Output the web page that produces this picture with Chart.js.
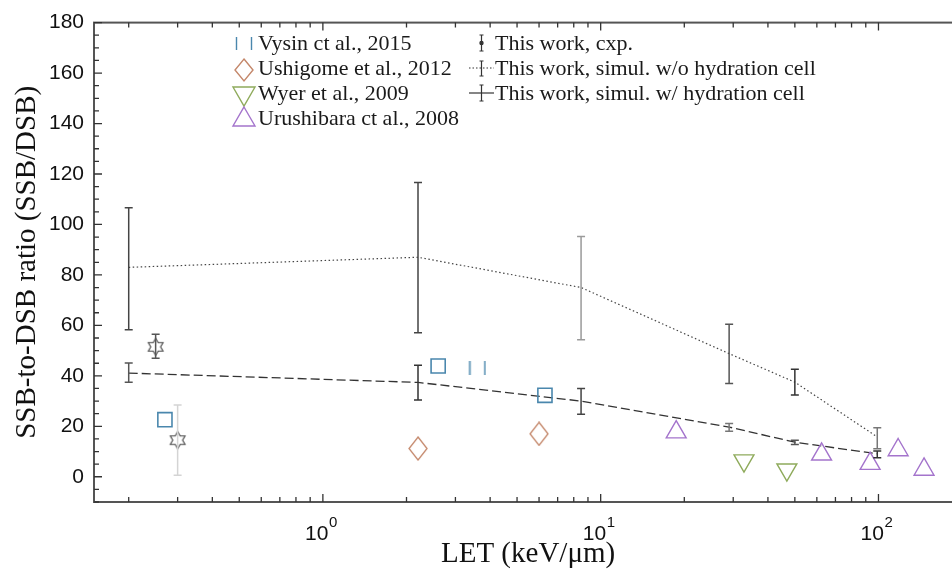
<!DOCTYPE html>
<html>
<head>
<meta charset="utf-8">
<script src="https://cdn.jsdelivr.net/npm/chart.js@4.4.0/dist/chart.umd.min.js"></script>
<style>
  html, body { margin: 0; padding: 0; background: #fff; }
  body { width: 952px; height: 573px; overflow: hidden; position: relative; }
  #wrap { position: absolute; left: 0; top: 0; width: 975px; height: 573px; }
  #glyphs { position: absolute; left: 0; top: 0; }
  .leg { position: absolute; font-family: 'Liberation Serif', serif; font-size: 22px; line-height: 25px; color: #1a1a1a; white-space: nowrap; }
</style>
</head>
<body>
<div id="wrap"><canvas id="chart" width="975" height="573"></canvas></div>

<svg id="glyphs" width="952" height="140">
  <g fill="none" stroke-width="1.4">
    <path d="M236.5 37 V50 M251.5 37 V50" stroke="#4a87ad" />
    <path d="M244 59 L253 70 L244 81 L235 70 Z" stroke="#c4876a" />
    <path d="M233 87 L255 87 L244 106 Z" stroke="#8fab5c" />
    <path d="M244 107 L255 126 L233 126 Z" stroke="#a474cc" />
  </g>
  <g fill="none" stroke="#333" stroke-width="1.2">
    <path d="M481.5 35 V51 M479.5 35 H483.5 M479.5 51 H483.5" />
    <circle cx="481.5" cy="43" r="1.6" fill="#333" />
    <path d="M469 68 H494" stroke-dasharray="1.5 2" />
    <path d="M481.5 61 V76 M479.5 61 H483.5 M479.5 76 H483.5" />
    <path d="M469 93 H494" />
    <path d="M481.5 85 V101 M479.5 85 H483.5 M479.5 101 H483.5" />
  </g>
</svg>
<div class="leg" style="left:258px;top:30px">Vysin ct al., 2015</div>
<div class="leg" style="left:258px;top:55px">Ushigome et al., 2012</div>
<div class="leg" style="left:258px;top:80px">Wyer et al., 2009</div>
<div class="leg" style="left:258px;top:105px">Urushibara ct al., 2008</div>
<div class="leg" style="left:495px;top:30px">This work, cxp.</div>
<div class="leg" style="left:495px;top:55px">This work, simul. w/o hydration cell</div>
<div class="leg" style="left:495px;top:80px">This work, simul. w/ hydration cell</div>

<script>
// ── Data ─────────────────────────────────────────────────
const simX     = [0.2, 2.2, 8.5, 29, 50, 99];
const woY      = [83, 87, 75, 48.8, 37.5, 15.8];
const woLow    = [58.3, 57.1, 54.3, 37, 32.4, 11.1];
const woHigh   = [106.6, 116.6, 95.2, 60.4, 42.6, 19.4];
const wY       = [41.1, 37.4, 30.0, 19.7, 13.7, 9.1];
const wLow     = [37.5, 30.4, 24.8, 18.0, 12.8, 7.5];
const wHigh    = [45.1, 44.2, 35.0, 21.1, 14.5, 10.2];

const expX     = [0.25, 0.30];
const expY     = [51.5, 14.5];
const expLow   = [47, 0.6];
const expHigh  = [56.5, 28.4];

const vysinX      = [0.27, 2.6, 3.6, 6.3];
const vysinY      = [22.6, 43.9, 43.2, 32.3];
const ushigomeX   = [2.2, 6.0];
const ushigomeY   = [11.2, 17.0];
const wyerX       = [32.8, 46.8];
const wyerY       = [6.4, 2.8];
const urushibaraX = [18.7, 62.4, 93.3, 117.7, 145.9];
const urushibaraY = [17.7, 8.9, 5.2, 10.6, 2.9];

const xDecades    = [0.1, 1, 10, 100];
const xMajorTicks = [1, 10, 100];
const xTickBase   = '10';
const xTickExps   = ['0', '1', '2'];
const yLabelStep  = 20;

// ── Marker glyphs ────────────────────────────────────────
function glyph(w, h, draw) {
  const c = document.createElement('canvas');
  c.width = w; c.height = h;
  const g = c.getContext('2d');
  draw(g, w, h);
  return c;
}

const diamond = glyph(20, 25, (g, w, h) => {
  g.strokeStyle = '#c4876a'; g.lineWidth = 1.3;
  g.beginPath();
  g.moveTo(w / 2, 1); g.lineTo(w - 1, h / 2); g.lineTo(w / 2, h - 1); g.lineTo(1, h / 2);
  g.closePath(); g.stroke();
});

const star = glyph(20, 20, (g, w, h) => {
  g.strokeStyle = '#444'; g.lineWidth = 1.1;
  const R = 8.5, r = R / Math.sqrt(3);
  g.beginPath();
  for (let k = 0; k < 12; k++) {
    const a = -Math.PI / 2 + k * Math.PI / 6;
    const rad = k % 2 ? r : R;
    const px = w / 2 + rad * Math.cos(a), py = h / 2 + rad * Math.sin(a);
    k ? g.lineTo(px, py) : g.moveTo(px, py);
  }
  g.closePath(); g.stroke();
});

const twinBars = glyph(18, 14, (g, w, h) => {
  g.strokeStyle = '#4a87ad'; g.lineWidth = 1.5;
  g.beginPath();
  g.moveTo(1.5, 0); g.lineTo(1.5, h);
  g.moveTo(w - 1.5, 0); g.lineTo(w - 1.5, h);
  g.stroke();
});

const pts = (xs, ys) => xs.map((x, i) => ({ x, y: ys[i] }));

// ── Plugins ──────────────────────────────────────────────
const errorBars = {
  id: 'errorBars',
  afterDatasetsDraw(chart) {
    const { ctx, scales: { x, y } } = chart;
    chart.data.datasets.forEach(ds => {
      if (!ds.errLow) return;
      ds.data.forEach((p, i) => {
        const px = x.getPixelForValue(p.x);
        const top = y.getPixelForValue(ds.errHigh[i]);
        const bot = y.getPixelForValue(ds.errLow[i]);
        ctx.save();
        ctx.strokeStyle = ds.errColors[i];
        ctx.lineWidth = 1.5;
        ctx.beginPath();
        ctx.moveTo(px, top); ctx.lineTo(px, bot);
        ctx.moveTo(px - 4, top); ctx.lineTo(px + 4, top);
        ctx.moveTo(px - 4, bot); ctx.lineTo(px + 4, bot);
        ctx.stroke();
        ctx.restore();
      });
    });
  },
};

// inward ticks on all sides + the box + power-of-ten labels
const frame = {
  id: 'frame',
  afterDraw(chart) {
    const { ctx, chartArea: a, scales: { x, y } } = chart;
    ctx.save();
    ctx.strokeStyle = '#555';
    ctx.lineWidth = 2;
    ctx.strokeRect(a.left, a.top, a.right - a.left, a.bottom - a.top);

    ctx.strokeStyle = '#333';
    ctx.lineWidth = 1.3;
    ctx.beginPath();
    x.ticks.forEach(t => {
      const px = x.getPixelForValue(t.value);
      const len = xDecades.includes(t.value) ? 8 : 5;
      ctx.moveTo(px, a.bottom); ctx.lineTo(px, a.bottom - len);
      ctx.moveTo(px, a.top);    ctx.lineTo(px, a.top + len);
    });
    y.ticks.forEach(t => {
      const py = y.getPixelForValue(t.value);
      const len = t.value % yLabelStep === 0 ? 8 : 5;
      ctx.moveTo(a.left, py);  ctx.lineTo(a.left + len, py);
      ctx.moveTo(a.right, py); ctx.lineTo(a.right - len, py);
    });
    ctx.stroke();

    ctx.fillStyle = '#111';
    ctx.textBaseline = 'alphabetic';
    ctx.textAlign = 'left';
    xMajorTicks.forEach((v, i) => {
      const px = x.getPixelForValue(v);
      ctx.font = "21px 'Liberation Sans', Arial, sans-serif";
      const wb = ctx.measureText(xTickBase).width;
      ctx.font = "15px 'Liberation Sans', Arial, sans-serif";
      const we = ctx.measureText(xTickExps[i]).width;
      const left = px - (wb + we) / 2 - 2;
      ctx.font = "21px 'Liberation Sans', Arial, sans-serif";
      ctx.fillText(xTickBase, left, a.bottom + 38);
      ctx.font = "15px 'Liberation Sans', Arial, sans-serif";
      ctx.fillText(xTickExps[i], left + wb + 0.5, a.bottom + 25);
    });
    ctx.restore();
  },
};

// ── Chart ────────────────────────────────────────────────
const tickFont  = { family: "'Liberation Sans', Arial, sans-serif", size: 21 };
const titleFont = { family: "'Liberation Serif', serif", size: 29 };

new Chart(document.getElementById('chart'), {
  type: 'scatter',
  data: {
    datasets: [
      {
        label: 'This work, cxp.',
        data: pts(expX, expY),
        pointStyle: star,
        errLow: expLow, errHigh: expHigh,
        errColors: ['#555', '#d4d4d4'],
      },
      {
        label: 'Vysin ct al., 2015',
        data: pts(vysinX, vysinY),
        pointStyle: ['rect', 'rect', twinBars, 'rect'],
        pointRadius: 10,
        borderColor: '#4a87ad',
        backgroundColor: 'rgba(0,0,0,0)',
        borderWidth: 1.6,
      },
      {
        label: 'Ushigome et al., 2012',
        data: pts(ushigomeX, ushigomeY),
        pointStyle: diamond,
      },
      {
        label: 'Wyer et al., 2009',
        data: pts(wyerX, wyerY),
        pointStyle: 'triangle',
        rotation: 180,
        pointRadius: 11.5,
        borderColor: '#8fab5c',
        backgroundColor: 'rgba(0,0,0,0)',
        borderWidth: 1.4,
      },
      {
        label: 'Urushibara ct al., 2008',
        data: pts(urushibaraX, urushibaraY),
        pointStyle: 'triangle',
        pointRadius: 11.5,
        borderColor: '#a474cc',
        backgroundColor: 'rgba(0,0,0,0)',
        borderWidth: 1.4,
      },
      {
        label: 'This work, simul. w/o hydration cell',
        data: pts(simX, woY),
        showLine: true,
        pointRadius: 0,
        borderColor: '#444',
        borderWidth: 1.2,
        borderDash: [1.5, 2.5],
        errLow: woLow, errHigh: woHigh,
        errColors: ['#444', '#444', '#9a9a9a', '#555', '#333', '#777'],
      },
      {
        label: 'This work, simul. w/ hydration cell',
        data: pts(simX, wY),
        showLine: true,
        pointRadius: 0,
        borderColor: '#333',
        borderWidth: 1.3,
        borderDash: [9, 4],
        errLow: wLow, errHigh: wHigh,
        errColors: ['#555', '#333', '#444', '#777', '#555', '#333'],
      },
    ],
  },
  options: {
    responsive: false,
    animation: false,
    devicePixelRatio: 1,
    layout: { padding: { top: 22, right: 12, left: 0, bottom: 0 } },
    plugins: { legend: { display: false }, tooltip: { enabled: false } },
    scales: {
      x: {
        type: 'logarithmic',
        min: 0.15,
        max: 200,
        grid: { display: false, drawTicks: false },
        border: { display: false },
        afterBuildTicks: s => {
          const vals = [];
          xDecades.forEach(d => {
            for (let m = 1; m <= 9; m++) {
              const v = +(d * m).toPrecision(3);
              if (v >= s.min && v <= s.max) vals.push(v);
            }
          });
          s.ticks = vals.map(v => ({ value: v }));
        },
        afterFit: s => { s.height = 71; },
        ticks: {
          autoSkip: false,
          maxRotation: 0,
          minRotation: 0,
          padding: 12,
          font: tickFont,
          callback: () => '',
        },
        title: {
          display: true,
          text: 'LET (keV/μm)',
          color: '#111',
          font: titleFont,
          padding: { top: 0, bottom: 1 },
        },
      },
      y: {
        min: -10,
        max: 180,
        grid: { display: false, drawTicks: false },
        border: { display: false },
        afterFit: s => { s.width = 94; },
        ticks: {
          stepSize: 5,
          autoSkip: false,
          padding: 10,
          color: '#111',
          font: tickFont,
          callback: v => (v >= 0 && v % yLabelStep === 0 ? String(v) : ''),
        },
        title: {
          display: true,
          text: 'SSB-to-DSB ratio (SSB/DSB)',
          color: '#111',
          font: titleFont,
          padding: { top: 10, bottom: 0 },
        },
      },
    },
  },
  plugins: [errorBars, frame],
});
</script>
</body>
</html>
